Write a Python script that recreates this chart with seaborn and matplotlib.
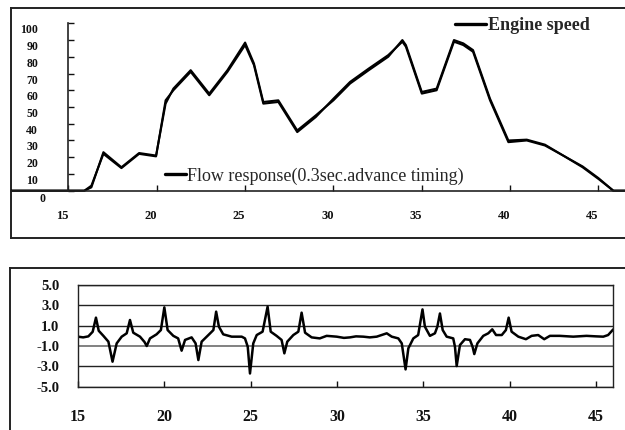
import numpy as np
import matplotlib
matplotlib.use("Agg")
import matplotlib.pyplot as plt
import matplotlib.transforms as mtrans
import seaborn as sns

# ---------------- data ----------------
time_top = [11.7, 15.9, 16.3, 16.98, 18.0, 19.0, 19.96, 20.5, 20.94, 21.92, 22.97, 24.0,
            25.0, 25.5, 26.03, 26.88, 27.95, 29.0, 30.0, 30.94, 32.0, 33.1, 33.9, 34.1,
            35.0, 35.84, 36.82, 37.35, 37.9, 38.86, 39.9, 40.94, 41.97, 43.0, 44.1, 45.0,
            45.84, 46.5]
engine_speed = [0, 0, 3, 22, 13.5, 22, 20.5, 54, 60, 71, 57, 71,
                87, 75, 52, 53, 35, 44, 55, 65, 73, 81, 89, 86,
                58, 60, 89, 87, 83, 54, 29, 30, 27, 21, 14, 7,
                0, 0]
flow_response = [0, 0, 2, 23, 14, 22.5, 21, 52, 61, 72, 58, 72,
                 88.5, 76, 53, 54, 36, 45, 54, 64, 72, 80, 90, 87,
                 59, 61, 90, 88, 84, 55, 30, 30.5, 27.5, 21, 14.5, 7.5,
                 0, 0]

time_bot = [15.0, 15.3, 15.6, 15.85, 16.04, 16.2, 16.47, 16.76, 17.0, 17.24, 17.53, 17.82,
            18.01, 18.2, 18.59, 18.85, 18.98, 19.17, 19.55, 19.8, 20.0, 20.19, 20.52, 20.8,
            21.0, 21.2, 21.58, 21.81, 21.97, 22.16, 22.55, 22.84, 23.0, 23.16, 23.41, 23.9,
            24.48, 24.67, 24.83, 24.96, 25.15, 25.35, 25.69, 25.98, 26.16, 26.5, 26.79, 26.95,
            27.12, 27.47, 27.76, 27.95, 28.15, 28.53, 29.0, 29.4, 29.98, 30.4, 30.75, 31.1,
            31.52, 31.9, 32.3, 32.88, 33.17, 33.55, 33.75, 33.97, 34.13, 34.42, 34.7, 34.95,
            35.09, 35.38, 35.67, 35.81, 35.96, 36.12, 36.35, 36.73, 36.83, 36.93, 37.12, 37.41,
            37.7, 37.85, 37.95, 38.13, 38.47, 38.76, 38.99, 39.21, 39.54, 39.78, 39.94, 40.11,
            40.5, 40.94, 41.27, 41.65, 42.0, 42.33, 42.9, 43.68, 44.45, 45.0, 45.42, 45.7, 46.0]
response = [-0.08, -0.15, -0.05, 0.4, 1.79, 0.5, 0.0, -0.57, -2.54, -0.74, -0.08, 0.25,
            1.56, 0.31, -0.08, -0.6, -1.0, -0.25, 0.15, 0.57, 2.8, 0.57, 0.0, -0.25,
            -1.46, -0.4, -0.15, -0.74, -2.38, -0.57, 0.08, 0.57, 2.38, 0.9, 0.15, -0.08,
            -0.08, -0.25, -1.07, -3.7, -0.74, 0.08, 0.41, 2.87, 0.41, 0.0, -0.4, -1.72,
            -0.57, 0.08, 0.41, 2.28, 0.31, -0.15, -0.25, 0.0, -0.08, -0.2, -0.15, -0.05,
            -0.08, -0.15, -0.08, 0.25, -0.08, -0.25, -0.74, -3.3, -1.23, -0.25, 0.08, 2.6,
            0.9, 0.0, 0.25, 0.9, 2.2, 0.57, -0.08, -0.25, -1.07, -2.97, -0.9, -0.33,
            -0.4, -1.07, -1.79, -0.74, 0.0, 0.25, 0.64, 0.08, 0.08, 0.57, 1.79, 0.41,
            -0.08, -0.33, 0.0, 0.08, -0.33, 0.0, 0.0, -0.08, 0.0, -0.05, -0.08, 0.08, 0.64]

top_yticks = [0, 10, 20, 30, 40, 50, 60, 70, 80, 90, 100]
top_xticks = [15, 20, 25, 30, 35, 40, 45]
bot_yticks = [-5, -3, -1, 1, 3, 5]
bot_yticklabels = ["-5.0", "-3.0", "-1.0", "1.0", "3.0", "5.0"]
bot_xticks = [15, 20, 25, 30, 35, 40, 45]

# ---------------- style ----------------
sns.set_style("white")
plt.rcParams['font.family'] = ['Liberation Serif', 'DejaVu Serif']

W, H = 625, 430
fig = plt.figure(figsize=(W / 100, H / 100), dpi=100)


def rect(x0, y0, x1, y1):
    return [x0 / W, 1 - y1 / H, (x1 - x0) / W, (y1 - y0) / H]


# outer frames
fr1 = fig.add_axes(rect(11, 7.5, 660, 237.5), zorder=0)
fr2 = fig.add_axes(rect(10, 267.5, 660, 470), zorder=0)
for fr in (fr1, fr2):
    fr.set_xticks([]); fr.set_yticks([])
    fr.set_facecolor('none')
    for s in fr.spines.values():
        s.set_color('#222222'); s.set_linewidth(1.4)
    fr.spines['right'].set_visible(False)
fr2.spines['bottom'].set_visible(False)

# ---------------- top panel ----------------
ax1 = fig.add_axes(rect(11, 7.5, 625, 237.5), zorder=2)
ax1.set_facecolor('none')
sns.lineplot(x=time_top, y=flow_response, ax=ax1, color='black', lw=1.5,
             estimator=None, label='Flow response(0.3sec.advance timing)', legend=False)
sns.lineplot(x=time_top, y=engine_speed, ax=ax1, color='black', lw=1.5,
             estimator=None, label='Engine speed', legend=False)
ax1.set_xlim(11.75, 46.5)
ax1.set_ylim(-27.96, 109.44)
for s in ('top', 'right'):
    ax1.spines[s].set_visible(False)
ax1.spines['left'].set_position(('data', 15))
ax1.spines['left'].set_bounds(0, 100)
ax1.spines['bottom'].set_position(('data', 0))
for s in ('left', 'bottom'):
    ax1.spines[s].set_color('#222222'); ax1.spines[s].set_linewidth(1.2)
ax1.set_yticks(top_yticks)
ax1.set_yticklabels([str(v) for v in top_yticks])
ax1.set_xticks(top_xticks)
ax1.set_xticklabels([str(v) for v in top_xticks])
ax1.tick_params(axis='y', direction='in', length=4, width=1, pad=21.9,
                labelsize=8.5, colors='#111111', left=True)
ax1.tick_params(axis='x', direction='in', length=4, width=1, pad=14.2,
                labelsize=9, colors='#111111', bottom=True)
ax1.set_xlabel(''); ax1.set_ylabel('')
for lab in ax1.get_yticklabels():
    lab.set_fontweight('bold')
    if lab.get_text() == '0':
        off = mtrans.ScaledTranslation(0.07, -0.065, fig.dpi_scale_trans)
    else:
        off = mtrans.ScaledTranslation(0, -0.055, fig.dpi_scale_trans)
    lab.set_transform(lab.get_transform() + off)
for lab in ax1.get_xticklabels():
    lab.set_fontweight('bold')
    lab.set_transform(lab.get_transform() +
                      mtrans.ScaledTranslation(-0.06, 0, fig.dpi_scale_trans))

lines = ax1.get_lines()
leg_eng = ax1.legend([lines[1]], ['Engine speed'], loc='center left',
                     bbox_to_anchor=(455 / W, 1 - 26 / H), bbox_transform=fig.transFigure,
                     frameon=False, borderpad=0, borderaxespad=0, handlelength=1.7,
                     handletextpad=0.12,
                     prop={'family': 'Liberation Serif', 'weight': 'bold', 'size': 13})
for l in leg_eng.get_lines():
    l.set_linewidth(2.4)
ax1.add_artist(leg_eng)
leg_flow = ax1.legend([lines[0]], ['Flow response(0.3sec.advance timing)'], loc='center left',
                      bbox_to_anchor=(165 / W, 1 - 176 / H), bbox_transform=fig.transFigure,
                      frameon=False, borderpad=0, borderaxespad=0, handlelength=1.15,
                      handletextpad=0.08,
                      prop={'family': 'Liberation Serif', 'size': 13})
for l in leg_flow.get_lines():
    l.set_linewidth(2.4)

# ---------------- bottom panel ----------------
ax2 = fig.add_axes(rect(78, 285, 613.3, 386.7), zorder=2)
ax2.set_facecolor('none')
sns.lineplot(x=time_bot, y=response, ax=ax2, color='black', lw=1.8, estimator=None)
ax2.set_xlim(15, 46)
ax2.set_ylim(-5, 5)
ax2.set_yticks(bot_yticks)
ax2.set_yticklabels(bot_yticklabels)
ax2.set_xticks(bot_xticks)
ax2.set_xticklabels([str(v) for v in bot_xticks])
ax2.set_xlabel(''); ax2.set_ylabel('')
for s in ax2.spines.values():
    s.set_visible(True); s.set_color('#222222'); s.set_linewidth(1.0)
ax2.yaxis.grid(True, color='#222222', lw=1.0)
ax2.xaxis.grid(False)
for v, gl in zip(bot_yticks, ax2.get_ygridlines()):
    if v == -1:
        gl.set_color('#777777'); gl.set_linewidth(1.3)
ax2.set_axisbelow(True)
ax2.tick_params(axis='y', length=0, pad=13.5, labelsize=10.5, colors='#111111')
ax2.tick_params(axis='x', direction='in', length=4, width=1, pad=16,
                labelsize=11.5, colors='#111111', bottom=True)
for lab in ax2.get_yticklabels() + ax2.get_xticklabels():
    lab.set_fontweight('bold')

fig.savefig('out.png', dpi=100)
